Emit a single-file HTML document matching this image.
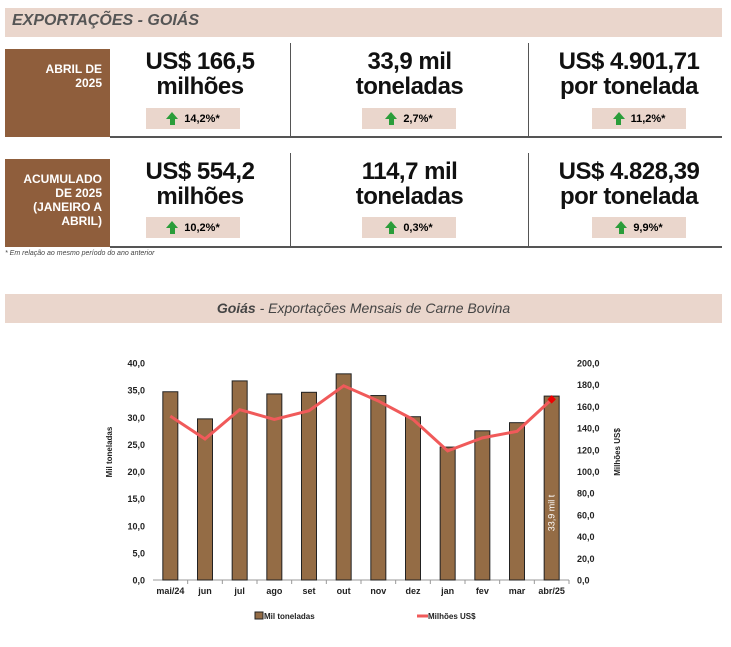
<!DOCTYPE html>
<html><head><meta charset="utf-8"><style>
body{margin:0;width:731px;height:647px;background:#fff;font-family:"Liberation Sans",sans-serif;position:relative;overflow:hidden}
.a{position:absolute}
.band{background:#ead6cc}
.brown{background:#8f5e3c;color:#fff;font-weight:bold;font-size:12px;text-align:right;line-height:14px;padding-right:8px;box-sizing:border-box}
.big{font-weight:bold;font-size:24px;line-height:25px;text-align:center;color:#111;letter-spacing:-0.5px}
.badge{background:#ead6cc;font-weight:bold;font-size:11px;display:flex;align-items:center;justify-content:center;gap:6px}
.arr{width:0;height:0;border-left:6px solid transparent;border-right:6px solid transparent;border-bottom:7px solid #2a9d3a;position:relative;top:-3px}
.arr:after{content:"";position:absolute;left:-2.5px;top:7px;width:5px;height:6px;background:#2a9d3a}
.vl{background:#555;width:1px}
.hl{background:#555;height:1.5px}
</style></head><body>
<div class="a band" style="left:5px;top:8px;width:717px;height:29px"></div>
<div class="a" style="left:12px;top:12px;font-size:16px;font-weight:bold;font-style:italic;color:#555">EXPORTAÇÕES - GOIÁS</div>

<div class="a brown" style="left:5px;top:49px;width:105px;height:88px;padding-top:13px">ABRIL DE<br>2025</div>
<div class="a brown" style="left:5px;top:159px;width:105px;height:88px;padding-top:13px">ACUMULADO<br>DE 2025<br>(JANEIRO A<br>ABRIL)</div>

<div class="a vl" style="left:290px;top:43px;height:94px"></div>
<div class="a vl" style="left:528px;top:43px;height:94px"></div>
<div class="a vl" style="left:290px;top:153px;height:94px"></div>
<div class="a vl" style="left:528px;top:153px;height:94px"></div>
<div class="a hl" style="left:110px;top:136px;width:612px"></div>
<div class="a hl" style="left:110px;top:246px;width:612px"></div>

<div class="a big" style="left:110px;top:49px;width:180px">US$ 166,5<br>milhões</div>
<div class="a big" style="left:291px;top:49px;width:237px">33,9 mil<br>toneladas</div>
<div class="a big" style="left:529px;top:49px;width:200px">US$ 4.901,71<br>por tonelada</div>
<div class="a big" style="left:110px;top:159px;width:180px">US$ 554,2<br>milhões</div>
<div class="a big" style="left:291px;top:159px;width:237px">114,7 mil<br>toneladas</div>
<div class="a big" style="left:529px;top:159px;width:200px">US$ 4.828,39<br>por tonelada</div>

<div class="a badge" style="left:146px;top:108px;width:94px;height:21px"><span class="arr"></span>14,2%*</div>
<div class="a badge" style="left:362px;top:108px;width:94px;height:21px"><span class="arr"></span>2,7%*</div>
<div class="a badge" style="left:592px;top:108px;width:94px;height:21px"><span class="arr"></span>11,2%*</div>
<div class="a badge" style="left:146px;top:217px;width:94px;height:21px"><span class="arr"></span>10,2%*</div>
<div class="a badge" style="left:362px;top:217px;width:94px;height:21px"><span class="arr"></span>0,3%*</div>
<div class="a badge" style="left:592px;top:217px;width:94px;height:21px"><span class="arr"></span>9,9%*</div>

<div class="a" style="left:5px;top:250px;font-size:7px;font-style:italic;color:#444">* Em relação ao mesmo período do ano anterior</div>

<div class="a band" style="left:5px;top:294px;width:717px;height:29px"></div>
<div class="a" style="left:5px;top:300px;width:717px;text-align:center;font-size:14px;font-style:italic;color:#444"><b>Goiás</b> - Exportações Mensais de Carne Bovina</div>

<svg class="a" style="left:0;top:0" width="731" height="647" id="chart"></svg>
<script>
const categories=["mai/24","jun","jul","ago","set","out","nov","dez","jan","fev","mar","abr/25"];
const tons=[34.7,29.7,36.7,34.3,34.6,38.0,34.0,30.1,24.5,27.5,29.0,33.9];
const usd=[151,130,157,148,156,179,165,148,119,131,137,166.5];
const leftTicks=["0,0","5,0","10,0","15,0","20,0","25,0","30,0","35,0","40,0"];
const rightTicks=["0,0","20,0","40,0","60,0","80,0","100,0","120,0","140,0","160,0","180,0","200,0"];
const svg=document.getElementById('chart');const NS="http://www.w3.org/2000/svg";
const X0=153,X1=569,Y0=580,Y1=363;
const yL=v=>Y0-(v/40)*(Y0-Y1), yR=v=>Y0-(v/200)*(Y0-Y1);
const step=(X1-X0)/categories.length, xc=i=>X0+step*(i+0.5);
function mk(t,a,txt){const e=document.createElementNS(NS,t);for(const k in a)e.setAttribute(k,a[k]);if(txt!=null)e.textContent=txt;svg.appendChild(e);return e;}
const ax=mk('line',{x1:X0,y1:Y0,x2:X1,y2:Y0,stroke:'#999'});


leftTicks.forEach((t,i)=>{const e=mk('text',{x:X0-8,y:yL(i*5)+3.5,'text-anchor':'end','font-size':9,'font-weight':'bold',fill:'#222'},t);

});
rightTicks.forEach((t,i)=>{const e=mk('text',{x:X1+8,y:yR(i*20)+3.5,'font-size':9,'font-weight':'bold',fill:'#222'},t);

});
categories.forEach((c,i)=>{
const b=mk('rect',{x:xc(i)-7.5,y:yL(tons[i]),width:15,height:Y0-yL(tons[i]),fill:'#946c45',stroke:'#222','stroke-width':1});


const t=mk('text',{x:xc(i),y:Y0+14,'text-anchor':'middle','font-size':9,'font-weight':'bold',fill:'#222'},c);


mk('line',{x1:X0+step*(i+1),y1:Y0,x2:X0+step*(i+1),y2:Y0+4,stroke:'#999'});
});
const pl=mk('polyline',{points:usd.map((v,i)=>xc(i)+','+yR(v)).join(' '),fill:'none',stroke:'#f05a5a','stroke-width':3});


const li=usd.length-1;
const dm=mk('rect',{x:xc(li)-3,y:yR(usd[li])-3,width:6,height:6,fill:'#e00',transform:`rotate(45 ${xc(li)} ${yR(usd[li])})`});


const bl=mk('text',{x:0,y:0,'font-size':9,fill:'#fff','text-anchor':'middle',transform:`translate(${xc(li)+3},${yL(tons[li]/2)+25}) rotate(-90)`},tons[li].toFixed(1).replace('.',',')+' mil t');


const lt=mk('text',{x:0,y:0,'font-size':8,'font-weight':'bold',fill:'#222','text-anchor':'middle',transform:'translate(112,452) rotate(-90)'},'Mil toneladas');


const rt=mk('text',{x:0,y:0,'font-size':8,'font-weight':'bold',fill:'#222','text-anchor':'middle',transform:'translate(620,452) rotate(-90)'},'Milhões US$');


const lg1=mk('rect',{x:255,y:612,width:8,height:7,fill:'#946c45',stroke:'#222'});


const lg1t=mk('text',{x:264,y:619,'font-size':8,'font-weight':'bold',fill:'#222'},'Mil toneladas');


const lg2=mk('line',{x1:417,y1:616,x2:428,y2:616,stroke:'#f05a5a','stroke-width':3});


const lg2t=mk('text',{x:428,y:619,'font-size':8,'font-weight':'bold',fill:'#222'},'Milhões US$');


</script>
</body></html>
